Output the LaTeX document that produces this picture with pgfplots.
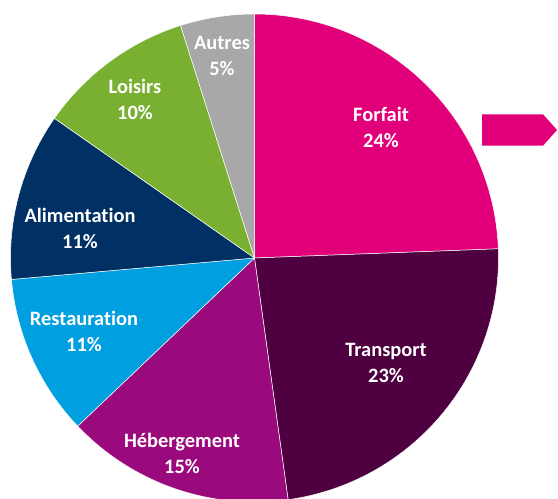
\documentclass[border=0pt]{standalone}
\usepackage{pgfplots}
\pgfplotsset{compat=1.18}
\usepackage{pgfplotstable}
\usepackage{fontspec}
\setmainfont{Carlito}[Ligatures={NoCommon,NoContextual}]
\definecolor{cF}{RGB}{226,0,122}
\definecolor{cT}{RGB}{78,0,64}
\definecolor{cH}{RGB}{155,10,125}
\definecolor{cR}{RGB}{0,159,223}
\definecolor{cA}{RGB}{0,48,100}
\definecolor{cL}{RGB}{122,176,50}
\definecolor{cO}{RGB}{168,168,168}
\newcommand\lbl{\bfseries\fontsize{20.5}{26}\selectfont}

% share (%), colour, label position (axis units = px)
\pgfplotstableread{
name value col lx ly
Forfait 24.4 cF 381 372
Transport 23.4 cT 386 136
Hébergement 15.1 cH 182 46
Restauration 10.7 cR 84 168
Alimentation 11.1 cA 80 271
Loisirs 10.4 cL 135 400
Autres 4.9 cO 222 443
}\piedata

\begin{document}
\begin{tikzpicture}
\useasboundingbox (0,0) rectangle (558bp,499bp);
\begin{axis}[
  width=558bp, height=499bp, scale only axis,
  xmin=0, xmax=558, ymin=0, ymax=499,
  hide axis, clip=true,
]
  \def\acc{90}
  \pgfplotsforeachungrouped \i in {0,...,6}{
    \pgfplotstablegetelem{\i}{value}\of\piedata \let\pVal\pgfplotsretval
    \pgfplotstablegetelem{\i}{col}\of\piedata \let\pCol\pgfplotsretval
    \pgfplotstablegetelem{\i}{name}\of\piedata \let\pName\pgfplotsretval
    \pgfplotstablegetelem{\i}{lx}\of\piedata \let\pLx\pgfplotsretval
    \pgfplotstablegetelem{\i}{ly}\of\piedata \let\pLy\pgfplotsretval
    \pgfmathsetmacro\sA{\acc}
    \pgfmathsetmacro\sB{\acc-3.6*\pVal}
    \pgfmathtruncatemacro\pPct{round(\pVal)}
    \edef\doslice{\noexpand\addplot[fill=\pCol, draw=white, line width=0.5pt,
      domain=\sB:\sA, samples=100]
      ({254.5+244*cos(x)},{241+244*sin(x)}) -- (254.5,241) -- cycle;}
    \doslice
    \edef\donode{\noexpand\node[text=white, font=\noexpand\lbl, align=center]
      at (\pLx,\pLy) {\pName\noexpand\\\pPct\noexpand\%};}
    \donode
    \let\acc\sB
  }
  % arrow on the right
  \addplot[fill=cF, draw=none] coordinates
    {(482,384.7) (543,384.7) (557,369) (543,353.3) (482,353.3)} -- cycle;
\end{axis}
\end{tikzpicture}
\end{document}
